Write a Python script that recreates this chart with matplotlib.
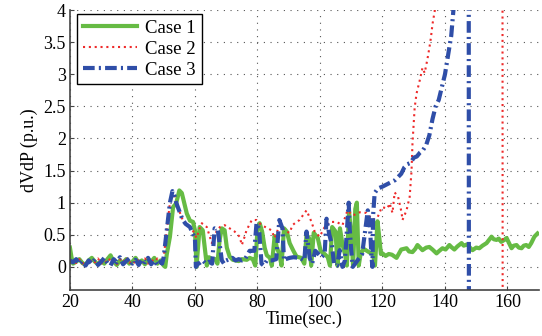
import matplotlib
matplotlib.use("Agg")
import matplotlib.pyplot as plt

plt.rcParams['font.family'] = ['Liberation Serif', 'DejaVu Serif']
plt.rcParams['mathtext.fontset'] = 'stix'

# ---------------- data ----------------
t_case1 = [20, 20.5, 21, 22, 23, 24, 25, 26, 27, 28, 29, 30, 31, 32, 33, 34, 35, 36, 37, 38, 39,
           40, 41, 42, 43, 44, 45, 46, 47, 48, 49, 50, 50.5, 51, 52, 53, 54, 55, 55.8, 56.8, 57.4,
           58.4, 59.4, 60.0, 60.5, 61.5, 62.5, 63.1, 63.8, 64.5, 65.5, 66.5, 67.2, 67.9, 68.6, 69.5,
           70.2, 71.1, 72.1, 74, 75, 76.6, 77.5, 78.5, 79.3, 80, 80.7, 81.5, 82.3, 83, 84, 84.6,
           85.5, 86.2, 87, 87.7, 88.5, 89.4, 90.3, 91.5, 92.5, 94, 95, 95.7, 96.5, 97.2, 98, 99.3,
           100.2, 101.5, 102.5, 103.2, 103.9, 105, 105.6, 106.4, 107.2, 108, 108.6, 109.3, 110,
           110.6, 111.3, 111.8, 112.4, 113, 114, 115, 116, 117, 117.6, 118.4, 119, 119.5, 120, 121,
           122, 123, 124.5, 126, 127.7, 128.5, 129.6, 130.5, 131.2, 132, 132.8, 134, 135, 136,
           137.3, 138.2, 139.2, 140.2, 141.4, 142, 143, 144, 145.3, 146, 147.1, 148, 148.8, 150,
           151, 152, 153.3, 154.9, 155.6, 156.5, 157.2, 158, 159, 159.7, 160.5, 161.3, 162, 162.9,
           163.6, 164.5, 165.2, 166, 166.8, 167.6, 168.6, 169.6]
v_case1 = [0.30, 0.15, 0.05, 0.08, 0.12, 0.06, 0.03, 0.10, 0.14, 0.08, 0.04, 0.09, 0.05, 0.12,
           0.18, 0.08, 0.03, 0.10, 0.06, 0.12, 0.05, 0.08, 0.14, 0.06, 0.10, 0.04, 0.12, 0.08,
           0.14, 0.05, 0.10, 0.02, 0.00, 0.20, 0.47, 0.93, 0.99, 1.19, 1.15, 0.95, 0.83, 0.72,
           0.70, 0.57, 0.00, 0.62, 0.57, 0.31, 0.02, 0.15, 0.12, 0.12, 0.05, 0.42, 0.60, 0.57,
           0.30, 0.16, 0.11, 0.09, 0.12, 0.11, 0.14, 0.12, 0.02, 0.57, 0.68, 0.55, 0.30, 0.18,
           0.14, 0.02, 0.48, 0.30, 0.20, 0.02, 0.60, 0.55, 0.37, 0.25, 0.16, 0.14, 0.05, 0.50,
           0.45, 0.02, 0.53, 0.45, 0.25, 0.20, 0.15, 0.02, 0.62, 0.55, 0.02, 0.60, 0.35, 0.20,
           0.02, 0.87, 0.50, 0.02, 0.90, 1.00, 0.02, 0.20, 0.28, 0.25, 0.22, 0.20, 0.02, 0.71,
           0.45, 0.20, 0.21, 0.17, 0.20, 0.19, 0.14, 0.27, 0.29, 0.24, 0.23, 0.28, 0.34, 0.30,
           0.26, 0.30, 0.31, 0.27, 0.21, 0.25, 0.29, 0.27, 0.34, 0.31, 0.27, 0.32, 0.37, 0.33,
           0.35, 0.30, 0.26, 0.30, 0.29, 0.33, 0.37, 0.47, 0.43, 0.42, 0.44, 0.39, 0.42, 0.45,
           0.37, 0.29, 0.33, 0.34, 0.30, 0.29, 0.33, 0.34, 0.31, 0.37, 0.47, 0.52]

t_case2 = [20, 21, 22, 23, 24, 25, 26, 27, 28, 29, 30, 31, 32, 33, 34, 35, 36, 37, 38, 39, 40,
           41, 42, 43, 44, 45, 46, 47, 48, 49, 50, 51, 52, 52.8, 53.5, 54, 55, 56, 57, 58.5,
           59.5, 60.5, 61.5, 62.2, 63.8, 65.4, 66.3, 67, 68, 69.5, 71.1, 72.7, 74.3, 75, 75.9,
           76.5, 78.2, 79.7, 81.3, 83.3, 84.5, 85.5, 87.1, 89.3, 90.3, 91.2, 92.5, 93.5, 94.5,
           95.7, 97.3, 98.3, 99.9, 101.5, 103.1, 105.3, 107.2, 108.8, 110.5, 112.7, 114.9,
           116.9, 118.5, 119.8, 121.6, 122.3, 123.2, 123.9, 125, 126.1, 126.4, 127.7, 128.7,
           129.3, 129.6, 130.3, 130.9, 131.9, 132.8, 133.5, 134.4, 135, 135.5, 136, 136.7,
           137.5, 158.4, 158.45]
v_case2 = [0.08, 0.10, 0.06, 0.12, 0.05, 0.09, 0.04, 0.11, 0.07, 0.13, 0.05, 0.10, 0.06, 0.14,
           0.08, 0.04, 0.12, 0.07, 0.15, 0.06, 0.10, 0.05, 0.12, 0.07, 0.13, 0.05, 0.11, 0.08,
           0.13, 0.06, 0.15, 0.57, 1.00, 1.15, 1.10, 1.00, 0.87, 0.74, 0.67, 0.62, 0.55, 0.45,
           0.60, 0.68, 0.62, 0.37, 0.45, 0.57, 0.62, 0.65, 0.60, 0.55, 0.47, 0.34, 0.47, 0.57,
           0.73, 0.73, 0.65, 0.60, 0.57, 0.45, 0.65, 0.55, 0.53, 0.65, 0.70, 0.73, 0.80, 0.88,
           0.70, 0.55, 0.47, 0.62, 0.70, 0.70, 0.65, 0.88, 0.80, 0.85, 0.84, 0.73, 0.78, 0.93,
           0.91, 0.99, 0.84, 1.16, 1.09, 0.85, 0.73, 0.88, 1.09, 1.50, 1.92, 2.48, 2.70, 2.90,
           3.10, 3.02, 3.24, 3.41, 3.57, 3.78, 3.98, 4.60, 4.60, -0.60]

t_case3 = [20, 21, 22, 23, 24, 25, 26, 27, 28, 29, 30, 31, 32, 33, 34, 35, 36, 37, 38, 39, 40,
           41, 42, 43, 44, 45, 46, 47, 48, 49, 49.5, 50, 51, 52, 52.8, 53.5, 54, 55, 56, 57,
           58.4, 59.3, 60, 60.3, 61, 61.5, 62.5, 63.5, 64.5, 65.5, 66.3, 67.3, 68.6, 69.3, 70,
           71, 72, 73, 74, 75, 76, 77.5, 79, 79.7, 80.5, 81.3, 82, 83, 84.6, 86, 87, 88, 88.5,
           89, 90.3, 91.5, 93.5, 95, 95.7, 96.7, 97.5, 98.5, 100.5, 101.5, 102.1, 103, 103.8,
           104.5, 105.5, 106.3, 107.2, 108, 108.8, 109.2, 109.5, 110, 110.5, 112, 113.5, 115.3,
           116, 116.5, 116.8, 117, 117.5, 118.5, 120, 122, 124, 125, 126, 127, 128, 129, 130,
           131, 132, 133, 134, 135, 136, 137, 138, 139, 140, 141, 142, 142.7, 143.5, 147.6,
           147.65]
v_case3 = [0.10, 0.07, 0.12, 0.04, 0.09, 0.02, 0.10, 0.05, 0.12, 0.03, 0.08, 0.14, 0.06, 0.02,
           0.12, 0.07, 0.15, 0.04, 0.09, 0.13, 0.05, 0.11, 0.03, 0.12, 0.07, 0.14, 0.04, 0.10,
           0.02, 0.08, 0.05, 0.15, 0.57, 1.00, 1.18, 1.10, 1.00, 0.87, 0.74, 0.67, 0.62, 0.52,
           0.45, 0.00, 0.05, 0.06, 0.10, 0.05, 0.08, 0.05, 0.60, 0.58, 0.10, 0.05, 0.10, 0.12,
           0.14, 0.10, 0.12, 0.10, 0.12, 0.25, 0.25, 0.68, 0.60, 0.05, 0.02, 0.10, 0.10, 0.12,
           0.73, 0.60, 0.10, 0.12, 0.14, 0.15, 0.14, 0.10, 0.55, 0.14, 0.05, 0.25, 0.15, 0.20,
           0.75, 0.50, 0.35, 0.05, 0.02, 0.26, 0.00, 0.10, 0.70, 1.00, 0.60, 0.26, 0.00, 0.10,
           0.20, 0.88, 0.62, 0.15, 0.00, 0.80, 1.15, 1.22, 1.25, 1.30, 1.35, 1.40, 1.45, 1.55,
           1.60, 1.62, 1.70, 1.72, 1.78, 1.82, 1.90, 2.05, 2.30, 2.50, 2.60, 2.80, 3.00, 3.30,
           3.60, 4.00, 4.60, 4.60, -0.60]

labels = ['Case 1', 'Case 2', 'Case 3']
x_ticks = [20, 40, 60, 80, 100, 120, 140, 160]
y_ticks = [0, 0.5, 1, 1.5, 2, 2.5, 3, 3.5, 4]
y_ticklabels = ['0', '0.5', '1', '1.5', '2', '2.5', '3', '3.5', '4']

# ---------------- figure ----------------
fig = plt.figure(figsize=(5.42, 3.36), dpi=100)
ax = fig.add_axes([0.129, 0.137, 0.865, 0.833])

green = '#66bb44'
red = '#ee2a2a'
blue = '#2f4ea8'

l1, = ax.plot(t_case1, v_case1, color=green, lw=3.0, label=labels[0], solid_joinstyle='round')
l2, = ax.plot(t_case2, v_case2, color=red, lw=1.5, label=labels[1])
l2.set_dashes([1.0, 1.8])
l3, = ax.plot(t_case3, v_case3, color=blue, lw=3.0, label=labels[2])
l3.set_dashes([2.8, 1.0, 0.5, 1.0])

ax.set_xlim(20, 170)
ax.set_ylim(-0.36, 4)
ax.set_xticks(x_ticks)
ax.set_yticks(y_ticks)
ax.set_yticklabels(y_ticklabels)

ax.grid(True, color='#555555', linestyle=(0, (1, 5)), lw=0.8)
for s in ['top', 'right']:
    ax.spines[s].set_visible(False)
for s in ['left', 'bottom']:
    ax.spines[s].set_color('#444444')
    ax.spines[s].set_linewidth(1.2)
ax.tick_params(direction='in', length=3, width=0.8, colors='#444444',
               labelcolor='black', labelsize=13, pad=3)

ax.set_xlabel('Time(sec.)', fontsize=13, labelpad=0)
ax.set_ylabel('dVdP (p.u.)', fontsize=13, labelpad=4)

leg = ax.legend(loc='upper left', bbox_to_anchor=(0.015, 0.985), fontsize=13.5,
                frameon=True, fancybox=False, edgecolor='black', framealpha=1,
                handlelength=2.9, handletextpad=0.45, borderpad=0.3, labelspacing=0.2,
                borderaxespad=0.0)
leg.get_frame().set_linewidth(1.0)

fig.savefig('out.png', dpi=100)
